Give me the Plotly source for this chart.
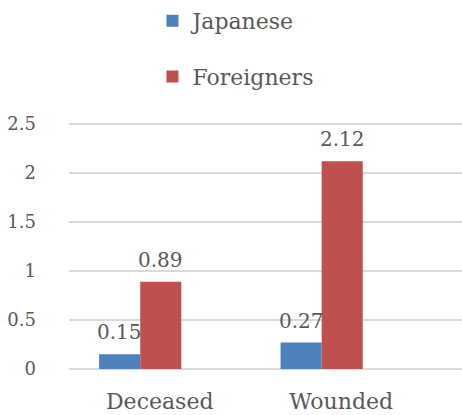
import plotly.graph_objects as go

# Rates per category (two series)
categories = ["Deceased", "Wounded"]
series_names = ["Japanese", "Foreigners"]
japanese = [0.15, 0.27]
foreigners = [0.89, 2.12]
y_ticks = [0, 0.5, 1, 1.5, 2, 2.5]
y_tick_text = ["0", "0.5", "1", "1.5", "2", "2.5"]

colors = ["#4F81BD", "#C0504D"]
FONT = "DejaVu Serif"
TEXT = "#595959"

BAR_W = 0.2265        # bar width in category units
START = -0.334        # left edge of first bar relative to category centre

fig = go.Figure()
values = [japanese, foreigners]
for i, (name, vals) in enumerate(zip(series_names, values)):
    fig.add_trace(go.Bar(
        x=categories, y=vals, name=name,
        marker=dict(color=colors[i], line=dict(width=0)),
        width=BAR_W, offset=START + i * BAR_W,
        legendgroup=name,
    ))
    # value labels above each bar
    for j, v in enumerate(vals):
        fig.add_annotation(
            x=j + START + i * BAR_W + BAR_W / 2, y=v,
            xref="x", yref="y", text=f"{v:.2f}",
            showarrow=False, yanchor="bottom", yshift=8,
            font=dict(family=FONT, size=20, color=TEXT),
        )

fig.update_layout(
    width=462, height=415,
    margin=dict(l=69, r=0, t=119, b=46, autoexpand=False),
    paper_bgcolor="white", plot_bgcolor="white",
    font=dict(family=FONT, color=TEXT),
    barmode="overlay",
    legend=dict(
        xref="container", yref="container",
        x=0.33, y=1.0, xanchor="left", yanchor="top",
        orientation="v", traceorder="grouped", tracegroupgap=24,
        font=dict(family=FONT, size=22, color=TEXT),
        bgcolor="rgba(0,0,0,0)",
    ),
    xaxis=dict(
        type="category", range=[-0.5, 1.666],
        showgrid=False, zeroline=False, showline=False, ticks="",
        tickfont=dict(family=FONT, size=22, color=TEXT),
        ticklabelstandoff=17, tickangle=0, automargin=False,
    ),
    yaxis=dict(
        range=[0, 2.55], tickvals=y_ticks, ticktext=y_tick_text,
        showgrid=True, gridcolor="#D9D9D9", gridwidth=1.5,
        zeroline=True, zerolinecolor="#D9D9D9", zerolinewidth=1.5,
        showline=False, ticks="",
        tickfont=dict(family=FONT, size=18, color=TEXT),
        ticklabelstandoff=32, automargin=False,
    ),
)

fig.write_html("out.html")
